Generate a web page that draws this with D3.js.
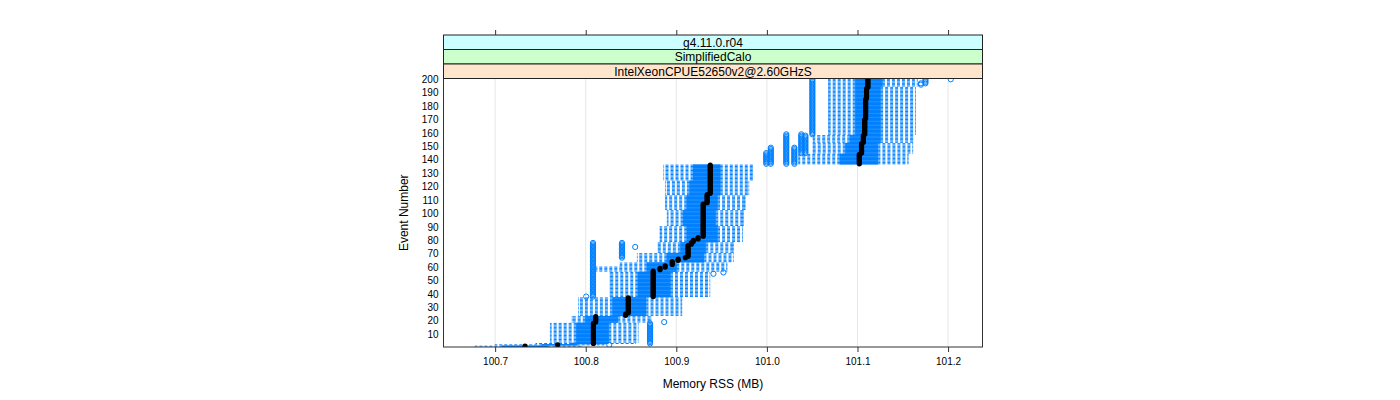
<!DOCTYPE html>
<html><head><meta charset="utf-8">
<script src="https://cdn.jsdelivr.net/npm/d3@7"></script>
<style>
body{margin:0;background:#fff}
svg{display:block}
text{font-family:"Liberation Sans",Arial,Helvetica,sans-serif;fill:#000}
</style>
</head><body>
<svg id="chart" width="1400" height="400"></svg>
<script>
// ---------------- DATA ----------------
const stripLabels = ["g4.11.0.r04", "SimplifiedCalo", "IntelXeonCPUE52650v2@2.60GHzS"];
const xTicks = [100.7, 100.8, 100.9, 101.0, 101.1, 101.2];
const xTickLabels = ["100.7", "100.8", "100.9", "101.0", "101.1", "101.2"];
const yTicks = [10, 20, 30, 40, 50, 60, 70, 80, 90, 100, 110, 120, 130, 140, 150, 160, 170, 180, 190, 200];
const yTickLabels = ["10","20","30","40","50","60","70","80","90","100","110","120","130","140","150","160","170","180","190","200"];
const xTitle = "Memory RSS (MB)";
const yTitle = "Event Number";

// box statistics, given for runs of consecutive events (first..last)
const segFirst = [1, 2, 3, 4, 19, 24, 38, 57, 61, 64, 71, 79, 91, 103, 114, 125, 137, 145, 153, 159, 195];
const segLast  = [1, 2, 3, 18, 23, 37, 56, 60, 63, 70, 78, 90, 102, 113, 124, 136, 144, 152, 158, 194, 200];
const segLo = [100.678, 100.700, 100.745, 100.761, 100.785, 100.792, 100.827, 100.812, 100.838, 100.857, 100.880, 100.882, 100.890, 100.888, 100.888, 100.886, 101.035, 101.051, 101.051, 101.068, 101.068];
const segQ1 = [100.708, 100.752, 100.785, 100.790, 100.800, 100.830, 100.858, 100.868, 100.868, 100.890, 100.905, 100.912, 100.908, 100.912, 100.915, 100.919, 101.081, 101.087, 101.092, 101.098, 101.098];
const segQ3 = [100.758, 100.790, 100.822, 100.825, 100.835, 100.866, 100.893, 100.900, 100.900, 100.930, 100.932, 100.945, 100.943, 100.945, 100.948, 100.948, 101.122, 101.122, 101.125, 101.125, 101.127];
const segHi = [100.795, 100.820, 100.855, 100.858, 100.872, 100.906, 100.937, 100.956, 100.956, 100.963, 100.963, 100.973, 100.974, 100.976, 100.980, 100.984, 101.156, 101.161, 101.161, 101.164, 101.166];

// medians, run-length: value and number of consecutive events
const medianValues = [100.733, 100.769, 100.8085, 100.811, 100.844, 100.847, 100.8745, 100.882, 100.8877, 100.8955, 100.902, 100.910, 100.913, 100.9165, 100.9187, 100.924, 100.9297, 100.934, 100.9375,
                      101.102, 101.1045, 101.1065, 101.108, 101.109, 101.110, 101.1115];
const medianCounts = [1, 1, 16, 5, 2, 12, 20, 2, 2, 3, 2, 1, 9, 2, 2, 2, 25, 7, 22,
                      8, 8, 6, 12, 15, 8, 7];

// outliers: value and the run of events (first..last) having it
const outValue = [100.826, 100.871, 100.8866, 100.8005, 100.808, 100.840, 100.8546, 100.941, 100.952,
                  100.9993, 101.0043, 101.0214, 101.0303, 101.038, 101.0425, 101.0502, 101.170, 101.175, 101.203];
const outFirst = [2, 3, 19, 38, 38, 67, 75, 55, 56, 137, 137, 137, 137, 145, 145, 159, 196, 197, 200];
const outLast  = [2, 18, 19, 38, 78, 78, 75, 55, 56, 145, 149, 159, 149, 159, 158, 200, 197, 200, 200];

// ---------------- LAYOUT ----------------
const L = 443.5, R = 982.5, T = 78.5, B = 347;
const stripH = 14.5;
const blue = "#0080ff";

const svg = d3.select("#chart");
const x = d3.scaleLinear().domain([100.643, 101.238]).range([L, R]);
const y = d3.scaleLinear().domain([0.4, 200.6]).range([B, T]);
const boxH = Math.abs(y(0.5) - y(0));   // box.ratio = 1 -> half a level

// expand runs into rows
const rows = [];
segFirst.forEach((f, i) => {
  for (let e = f; e <= segLast[i]; e++) rows.push({e, lo: segLo[i], q1: segQ1[i], q3: segQ3[i], hi: segHi[i]});
});
let k = 0;
medianValues.forEach((v, i) => { for (let j = 0; j < medianCounts[i]; j++) rows[k++].med = v; });
const outs = [];
outValue.forEach((v, i) => { for (let e = outFirst[i]; e <= outLast[i]; e++) outs.push({e, v}); });

// clip
svg.append("defs").append("clipPath").attr("id", "pclip")
  .append("rect").attr("x", L).attr("y", T).attr("width", R - L).attr("height", B - T);

// grid
svg.append("g").selectAll("line").data(xTicks).join("line")
  .attr("x1", d => x(d)).attr("x2", d => x(d)).attr("y1", T).attr("y2", B)
  .attr("stroke", "#e6e6e6").attr("stroke-width", 1);

const g = svg.append("g").attr("clip-path", "url(#pclip)");

// boxes
g.append("g").selectAll("rect").data(rows).join("rect")
  .attr("x", d => x(d.q1)).attr("width", d => x(d.q3) - x(d.q1))
  .attr("y", d => y(d.e) - boxH / 2).attr("height", boxH)
  .attr("fill", "none").attr("stroke", blue).attr("stroke-width", 1);

// whiskers (dashed, drawn outward from the box)
const wh = g.append("g").attr("stroke", blue).attr("stroke-width", 1).attr("stroke-dasharray", "3,2").attr("fill", "none");
wh.selectAll("line.l").data(rows).join("line").attr("class", "l")
  .attr("x1", d => x(d.q1)).attr("x2", d => x(d.lo)).attr("y1", d => y(d.e)).attr("y2", d => y(d.e));
wh.selectAll("line.r").data(rows).join("line").attr("class", "r")
  .attr("x1", d => x(d.q3)).attr("x2", d => x(d.hi)).attr("y1", d => y(d.e)).attr("y2", d => y(d.e));
// caps
const cp = g.append("g").attr("stroke", blue).attr("stroke-width", 1);
cp.selectAll("line.a").data(rows).join("line").attr("class", "a")
  .attr("x1", d => x(d.lo)).attr("x2", d => x(d.lo)).attr("y1", d => y(d.e) - boxH / 2).attr("y2", d => y(d.e) + boxH / 2);
cp.selectAll("line.b").data(rows).join("line").attr("class", "b")
  .attr("x1", d => x(d.hi)).attr("x2", d => x(d.hi)).attr("y1", d => y(d.e) - boxH / 2).attr("y2", d => y(d.e) + boxH / 2);

// medians
g.append("g").selectAll("circle").data(rows).join("circle")
  .attr("cx", d => x(d.med)).attr("cy", d => y(d.e)).attr("r", 2.6).attr("fill", "#000");

// outliers
g.append("g").selectAll("circle").data(outs).join("circle")
  .attr("cx", d => x(d.v)).attr("cy", d => y(d.e)).attr("r", 2.6)
  .attr("fill", "none").attr("stroke", blue).attr("stroke-width", 1);

// panel border
svg.append("rect").attr("x", L).attr("y", T).attr("width", R - L).attr("height", B - T)
  .attr("fill", "none").attr("stroke", "#333").attr("stroke-width", 1);

// strips
const stripCols = ["#ffe5cc", "#ccffcc", "#ccffff"];
stripLabels.forEach((lab, i) => {
  const idx = stripLabels.length - 1 - i; // colour index counted from the panel
  const yTop = T - stripH * (stripLabels.length - i);
  svg.append("rect").attr("x", L).attr("y", yTop).attr("width", R - L).attr("height", stripH)
    .attr("fill", stripCols[idx]).attr("stroke", "#222").attr("stroke-width", 1);
  svg.append("text").attr("x", (L + R) / 2).attr("y", yTop + stripH / 2 + 4.3)
    .attr("text-anchor", "middle").attr("font-size", 12).text(lab);
});

// bottom axis
const xAxisB = d3.axisBottom(x).tickValues(xTicks).tickFormat((d, i) => xTickLabels[i]).tickSize(5).tickPadding(6);
const gb = svg.append("g").attr("transform", `translate(0,${B})`).call(xAxisB);
gb.select(".domain").remove();
gb.selectAll("line").attr("stroke", "#333");
gb.selectAll("text").attr("font-size", 10).attr("font-family", '"Liberation Sans",Arial,sans-serif').attr("fill", "#000");

// top ticks (above strips)
const topY = T - stripH * stripLabels.length;
const xAxisT = d3.axisTop(x).tickValues(xTicks).tickFormat("").tickSize(5);
const gt = svg.append("g").attr("transform", `translate(0,${topY})`).call(xAxisT);
gt.select(".domain").remove();
gt.selectAll("line").attr("stroke", "#333");

// left axis labels
const yAxisL = d3.axisLeft(y).tickValues(yTicks).tickFormat((d, i) => yTickLabels[i]).tickSize(0).tickPadding(5);
const gl = svg.append("g").attr("transform", `translate(${L},0)`).call(yAxisL);
gl.select(".domain").remove();
gl.selectAll("text").attr("font-size", 10).attr("font-family", '"Liberation Sans",Arial,sans-serif').attr("fill", "#000");

// titles
svg.append("text").attr("x", (L + R) / 2).attr("y", 388).attr("text-anchor", "middle").attr("font-size", 12).text(xTitle);
svg.append("text").attr("transform", `translate(408,${(T + B) / 2}) rotate(-90)`).attr("text-anchor", "middle").attr("font-size", 12).text(yTitle);
</script>
</body></html>
